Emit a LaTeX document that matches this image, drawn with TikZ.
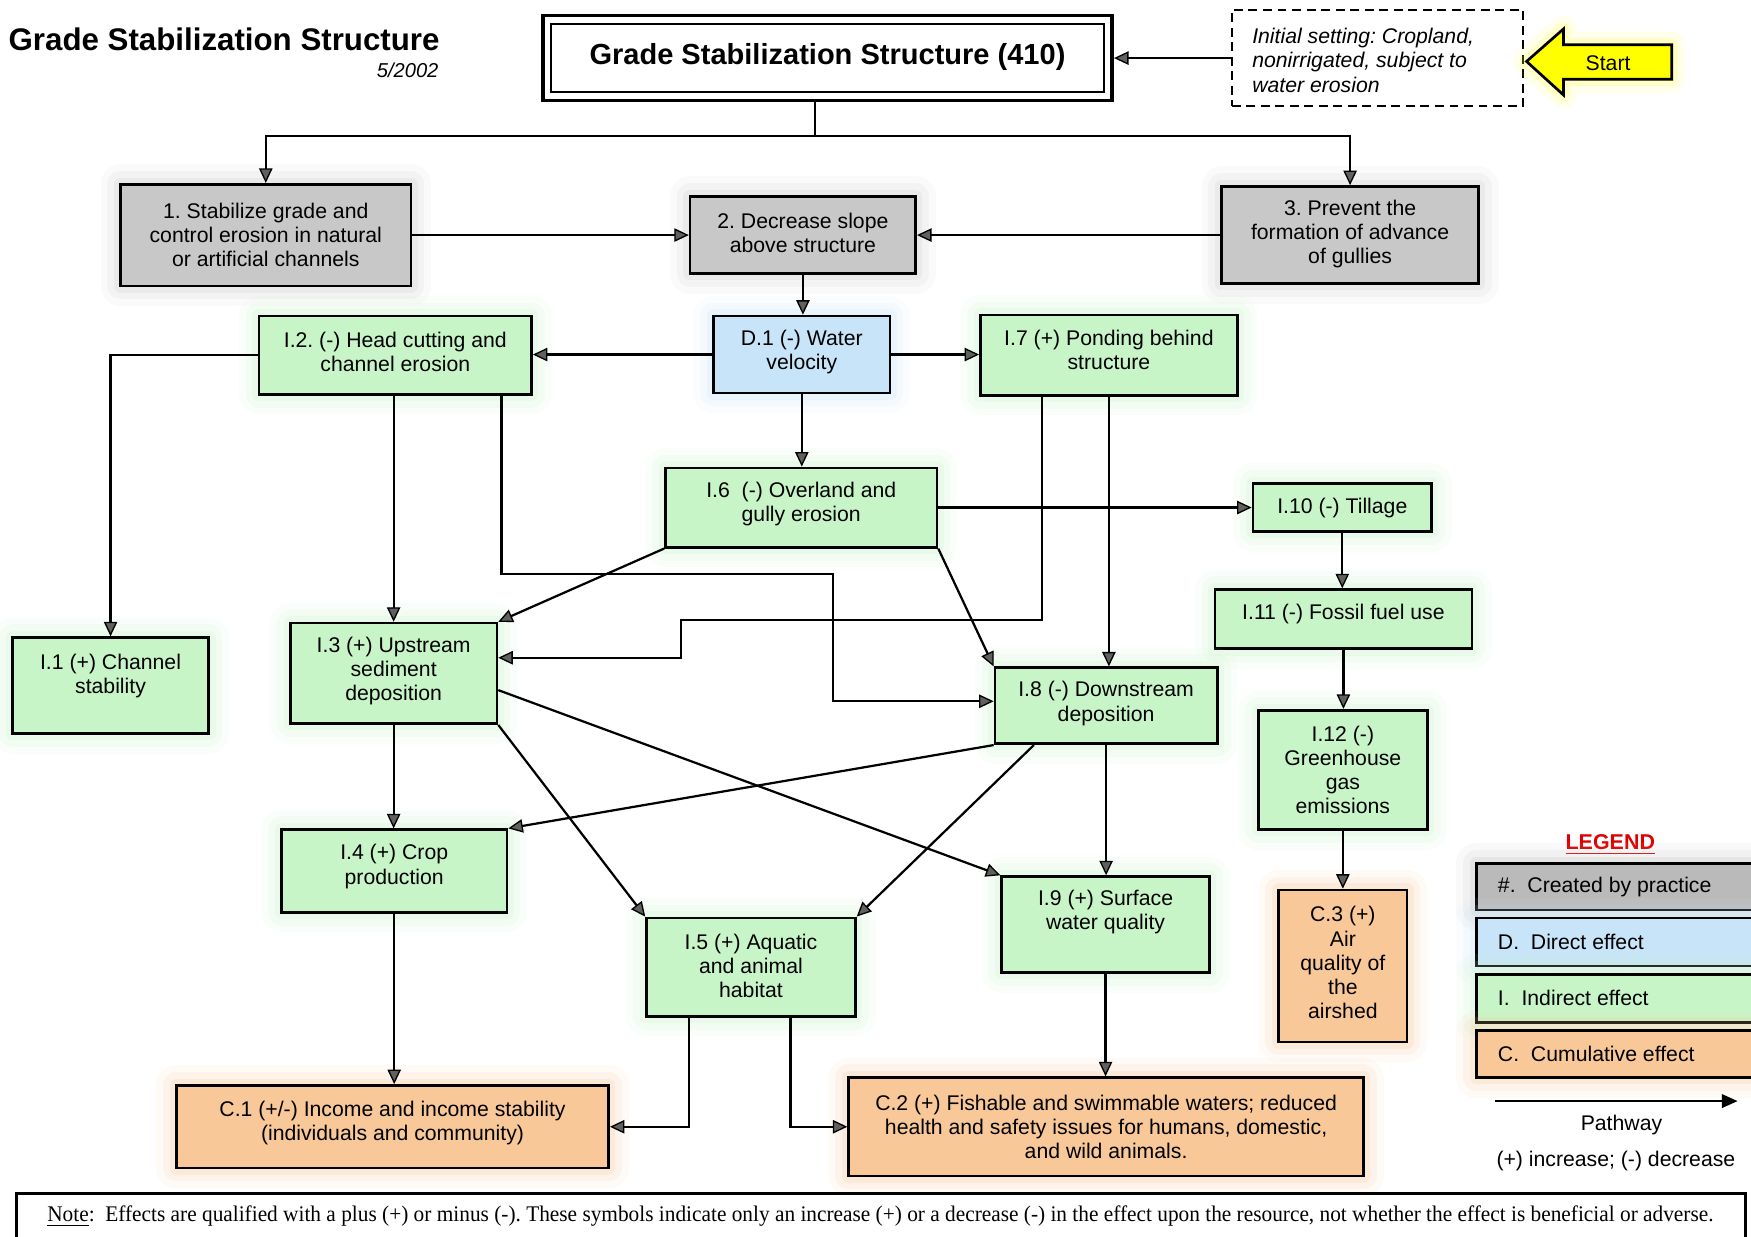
\documentclass[tikz,border=0pt]{standalone}
\usepackage{fontspec}
\usepackage{graphicx}
\setmainfont{Liberation Sans}
\newfontfamily\serifnote{Liberation Serif}
\usetikzlibrary{arrows.meta,calc,fit}
\frenchspacing

\definecolor{grayfill}{HTML}{C8C8C8}
\definecolor{graylegend}{HTML}{BABABA}
\definecolor{bluefill}{HTML}{C8E4F8}
\definecolor{greenfill}{HTML}{C8F5C8}
\definecolor{orangefill}{HTML}{F8C898}
\definecolor{startyellow}{HTML}{FFFF00}
\definecolor{legendred}{HTML}{E00000}
\definecolor{tipgray}{HTML}{606060}

\tikzset{
  box/.style={draw=black, line width=1.2pt, inner sep=0pt, fill=#1,
    preaction={draw=#1, line width=18pt, opacity=.08, line join=round},
    preaction={draw=#1, line width=12pt, opacity=.12, line join=round},
    preaction={draw=#1, line width=6pt, opacity=.2, line join=round}},
  gbox/.style={box=grayfill},
  gboxlegend/.style={box=graylegend},
  dbox/.style={box=bluefill},
  ibox/.style={box=greenfill},
  cbox/.style={box=orangefill},
  boxtext/.style={align=center, font=\fontsize{9.5}{10.8}\selectfont, inner sep=0pt},
  link/.style={line width=1pt, -{Triangle[length=6.5pt,width=6pt,fill=tipgray,line width=0.6pt]}},
  plain/.style={line width=1pt},
}

% box with its label: style, name, x1, y1, x2, y2, vertical text offset, text
\newcommand\boxat[8]{%
  \node[#1, fit={(#3,#4) (#5,#6)}] (#2) {};
  \node[boxtext] (#2-t) at ($(#2.center)+(0,#7)$) {#8};
}

\begin{document}
\begin{tikzpicture}[x=0.5pt, y=-0.5pt]
\useasboundingbox (0,0) rectangle (1568,1107);
\fill[white] (0,0) rectangle (1568,1107);

% heading
\node[anchor=base east, font=\bfseries\fontsize{14}{16}\selectfont, inner sep=0pt] (title) at (394,45) {Grade Stabilization Structure};
\node[anchor=base east, font=\itshape\fontsize{9}{11}\selectfont, inner sep=0pt] (date) at (393,69) {5/2002};

% practice box
\node[draw, line width=1.6pt, fill=white, fit={(486,14) (996,90)}, inner sep=0pt] (main) {};
\draw[line width=1.1pt] ($(main.north west)+(9,9)$) rectangle ($(main.south east)+(-9,-9)$);
\node[anchor=base, font=\bfseries\fontsize{13}{15}\selectfont, inner sep=0pt] (main-t) at (741,58) {Grade Stabilization Structure (410)};

% initial setting
\node[draw, dashed, dash pattern=on 4pt off 2.5pt, line width=1pt, fit={(1103,9) (1364,95)}, inner sep=0pt] (init) {};
\node[anchor=west, align=left, font=\itshape\fontsize{9.5}{10.8}\selectfont, inner sep=0pt] (init-t) at (1121,54) {Initial setting: Cropland,\\nonirrigated, subject to\\water erosion};

% start arrow
\draw[fill=startyellow, line width=1.2pt, line join=miter,
      preaction={draw=startyellow, line width=12pt, opacity=.08, line join=round},
      preaction={draw=startyellow, line width=6pt, opacity=.15, line join=round}]
  (1367,55) -- (1400,26) -- (1400,40) -- (1497,40) -- (1497,71) -- (1400,71) -- (1400,85) -- cycle;
\node[boxtext] (start) at (1440,57) {Start};

% purposes
\boxat{gbox}{b1}{108}{165}{368}{256}{0}{1. Stabilize grade and\\control erosion in natural\\or artificial channels}
\boxat{gbox}{b2}{618}{176}{820}{245}{-2}{2. Decrease slope\\above structure}
\boxat{gbox}{b3}{1094}{167}{1324}{254}{-1}{3. Prevent the\\formation of advance\\of gullies}

% effects
\boxat{dbox}{d1}{639}{283}{797}{352}{-2}{D.1 (-) Water\\velocity}
\boxat{ibox}{i2}{232}{283}{476}{353}{-3}{I.2. (-) Head cutting and\\channel erosion}
\boxat{ibox}{i7}{878}{282}{1108}{354}{-5}{I.7 (+) Ponding behind\\structure}
\boxat{ibox}{i6}{596}{419}{839}{490}{-3}{I.6 \ (-) Overland and\\gully erosion}
\boxat{ibox}{i10}{1122}{433}{1282}{476}{0}{I.10 (-) Tillage}
\boxat{ibox}{i11}{1088}{528}{1318}{581}{-5}{I.11 (-) Fossil fuel use}
\boxat{ibox}{i1}{11}{571}{187}{657}{-9}{I.1 (+) Channel\\stability}
\boxat{ibox}{i3}{260}{558}{445}{648}{-2}{I.3 (+) Upstream\\sediment\\deposition}
\boxat{ibox}{i8}{891}{598}{1090}{666}{-2}{I.8 (-) Downstream\\deposition}
\boxat{ibox}{i12}{1127}{636}{1278}{743}{0}{I.12 (-)\\Greenhouse\\gas\\emissions}
\boxat{ibox}{i4}{252}{743}{454}{817}{-4}{I.4 (+) Crop\\production}
\boxat{ibox}{i5}{579}{822}{766}{910}{-1}{I.5 (+) Aquatic\\and animal\\habitat}
\boxat{ibox}{i9}{897}{785}{1083}{871}{-11}{I.9 (+) Surface\\water quality}
\boxat{cbox}{c3}{1145}{797}{1260}{933}{-3}{C.3 (+)\\Air\\quality of\\the\\airshed}
\boxat{cbox}{c1}{158}{972}{545}{1046}{-3}{C.1 (+/-) Income and income stability\\(individuals and community)}
\boxat{cbox}{c2}{760}{965}{1221}{1053}{0}{C.2 (+) Fishable and swimmable waters; reduced\\health and safety issues for humans, domestic,\\and wild animals.}

% pathways from the practice
\coordinate (split) at (730,122);
\draw[plain] (split |- main.south) -- (split);
\draw[link] (split) -| (b1);
\draw[link] (split) -| (b3);
\draw[link] (init.west) -- (init.west -| main.east);
\draw[link] (b1.east) -- (b2.west);
\draw[link] (b3.west) -- (b2.east);
\draw[link] (b2.south) -- (b2.south |- d1.north);

% pathways between effects
\draw[link] (d1.west) -- (d1.west -| i2.east);
\draw[link] (d1.east) -- (d1.east -| i7.west);
\draw[link] (d1.south) -- (d1.south |- i6.north);
\draw[link] (i2.west) -| (i1.north);
\draw[link] (i2.south -| i3.north) -- (i3.north);
\coordinate (r1) at (449,514);
\coordinate (r2) at (746,628);
\draw[link] (i2.south -| r1) |- (r2 |- r1) |- (i8.west |- r2);
\coordinate (r3) at (933,555);
\coordinate (r4) at (610,589);
\draw[link] (i7.south -| r3) -- (r3) -| (r4) -- (r4 -| i3.east);
\draw[link] (i6.south west) -- (i3.north east);
\draw[link] (i6.south east) -- (i8.north west);
\draw[link] (i6.east) -- (i6.east -| i10.west);
\draw[link] (i7.south) -- (i7.south |- i8.north);
\draw[link] (i10.south) -- (i10.south |- i11.north);
\draw[link] (i11.south) -- (i11.south |- i12.north);
\draw[link] (i12.south) -- (i12.south |- c3.north);
\draw[link] (i3.south) -- (i3.south |- i4.north);
\draw[link] (i3.south east) -- (i5.north west);
\draw[link] ($(i3.east)+(0,15)$) -- (i9.north west);
\draw[link] (i8.south west) -- (i4.north east);
\draw[link] ($(i8.south west)+(36,0)$) -- (i5.north east);
\draw[link] (i8.south) -- (i8.south |- i9.north);
\draw[link] (i9.south) -- (i9.south |- c2.north);
\draw[link] (i4.south) -- (i4.south |- c1.north);
\draw[link] ($(i5.south west)+(39,0)$) |- (c1.east);
\draw[link] ($(i5.south west)+(130,0)$) |- (c2.west);

% legend
\node[font=\bfseries\fontsize{9.6}{11}\selectfont, text=legendred, anchor=base, inner sep=0pt] (legend) at (1442,761) {\underline{LEGEND}};
\node[gboxlegend, fit={(1322,773) (1580,815)}] (lg1) {};
\node[boxtext, anchor=west] (lg1-t) at (1341,794) {\#.\ \ Created by practice};
\node[dbox, fit={(1322,822) (1580,865)}] (lg2) {};
\node[boxtext, anchor=west] (lg2-t) at (1341,843.5) {D.\ \ Direct effect};
\node[ibox, fit={(1322,872.5) (1580,915.5)}] (lg3) {};
\node[boxtext, anchor=west] (lg3-t) at (1341,894) {I.\ \ Indirect effect};
\node[cbox, fit={(1322,923) (1580,965)}] (lg4) {};
\node[boxtext, anchor=west] (lg4-t) at (1341,944) {C.\ \ Cumulative effect};
\coordinate (pw1) at (1339,986);
\coordinate (pw2) at (1556,986);
\draw[line width=1pt, -{Triangle[length=7pt,width=6pt]}] (pw1) -- (pw2);
\node[boxtext, anchor=base] (pw) at (1452,1012) {Pathway};
\node[boxtext, anchor=base] (pm) at (1447,1045) {(+) increase; (-) decrease};

% note
\node[draw, line width=1.2pt, fit={(15,1069) (1563,1125)}, inner sep=0pt] (note) {};
\node[anchor=base west, font=\serifnote\fontsize{10}{12}\selectfont, inner sep=0pt] (note-t) at (42,1094) {\resizebox{746pt}{\height}{\underline{Note}:\ \ Effects are qualified with a plus (+) or minus (-). These symbols indicate only an increase (+) or a decrease (-) in the effect upon the resource, not whether the effect is beneficial or adverse.}};
\end{tikzpicture}
\end{document}
